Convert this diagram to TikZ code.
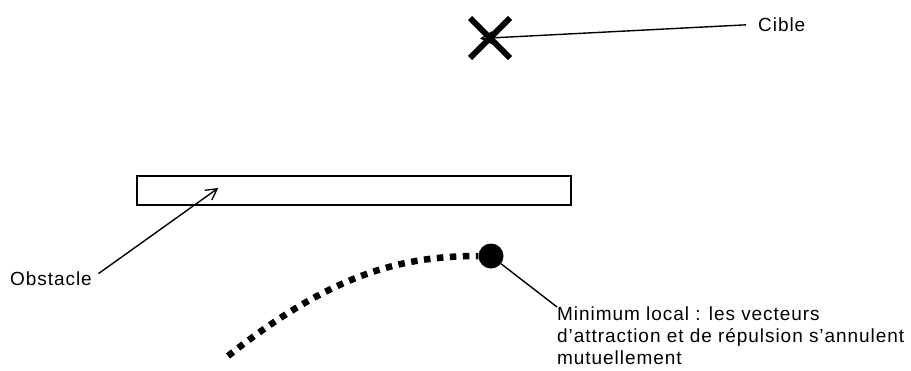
\documentclass[tikz,border=0pt]{standalone}
\usepackage{fontspec}
\usepackage{tikz}
\usetikzlibrary{shapes.misc,arrows.meta,positioning}

\newfontfamily\labelfont{Liberation Sans}[LetterSpace=5]

\begin{document}
\begin{tikzpicture}[
    x=1pt, y=-1pt,
    label/.style={font=\labelfont\fontsize{19}{22}\selectfont, inner sep=0pt},
    pointer/.style={line width=1.4pt, -{Straight Barb[length=11pt,width=12pt,line width=1.3pt]}},
    path/.style={line width=6.5pt, dash pattern=on 6.5pt off 6.5pt}
]
\useasboundingbox (0,0) rectangle (911,370);

% target
\node[cross out, draw, line width=6pt, minimum size=34pt, inner sep=0pt] (cible) at (490,38) {};
\node[label, anchor=base west] (cible-label) at (758,31) {Cible};
\draw[pointer, shorten <=12pt, shorten >=-10pt] (cible-label.west) -- (cible.center);

% obstacle
\node[draw, line width=1.4pt, minimum width=434pt, minimum height=29pt, inner sep=0pt] (obstacle) at (354,190.5) {};
\coordinate (obstacle-tip) at ([xshift=82pt,yshift=2.5pt]obstacle.west);
\node[label, anchor=base west] (obstacle-label) at (10,285) {Obstacle};
\draw[pointer, shorten <=8pt] (obstacle-label.east) -- (obstacle-tip);

% trajectory ending in the local minimum
\node[circle, fill, minimum size=25pt, inner sep=0pt] (minimum) at (491,256) {};
\coordinate (start) at (228,356);
\draw[path] (start) .. controls (330,275) and (400,256) .. (minimum.west);

\node[label, anchor=north west, align=left] (minimum-label) at (557,307) {Minimum local : les vecteurs\\
d’attraction et de répulsion s’annulent\\
mutuellement};
\draw[line width=1.4pt] (minimum) -- (minimum-label.north west);

\end{tikzpicture}
\end{document}
